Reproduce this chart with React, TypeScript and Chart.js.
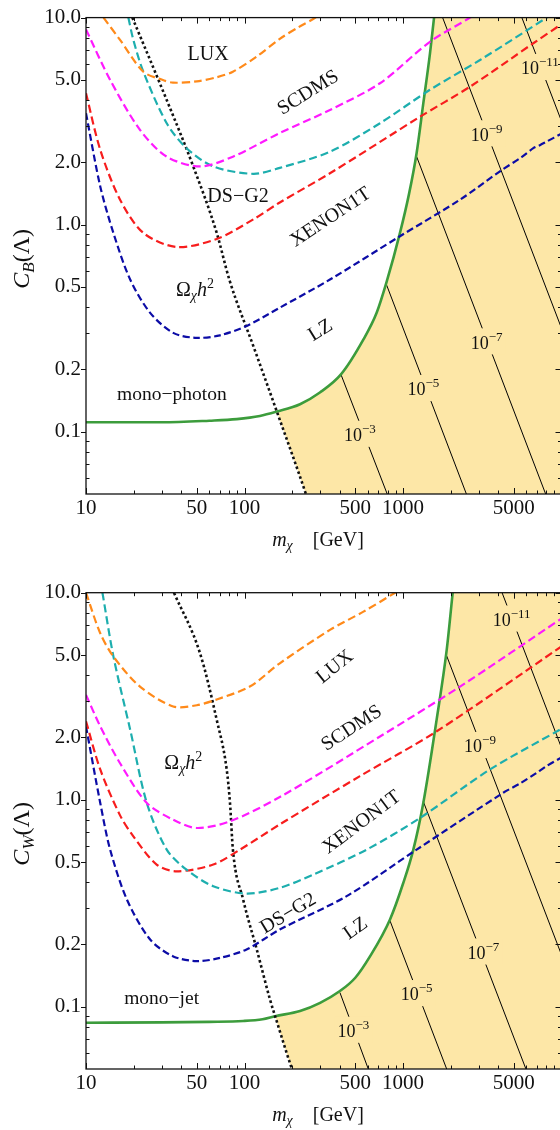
import React, { useEffect, useRef } from 'react';
import { Chart, registerables } from 'chart.js';

Chart.register(...registerables);

type P = [number, number];

// ---------- axes ----------
const X_MIN = 10;
const X_MAX = 10000;
const Y_MIN = 0.05;
const Y_MAX = 10;

const xLabelTicks = [10, 50, 100, 500, 1000, 5000];
const xMajorTicks = [10, 50, 100, 500, 1000, 5000, 10000];
const xMinorTicks = [20, 30, 40, 60, 70, 80, 90, 200, 300, 400, 600, 700, 800, 900, 2000, 3000, 4000, 6000, 7000, 8000, 9000];
const yLabelTicks = [0.1, 0.2, 0.5, 1, 2, 5, 10];
const yMinorTicks = [0.06, 0.07, 0.08, 0.09, 0.3, 0.4, 0.6, 0.7, 0.8, 0.9, 3, 4, 6, 7, 8, 9];

const contourExponents = ['−3', '−5', '−7', '−9', '−11'];

// ---------- upper panel: C_B ----------
const luxB: P[] = [[12.9, 10], [16.4, 7.8], [23, 5.48], [30, 5.02], [35.4, 4.85], [50, 4.92], [66.8, 5.15], [84.5, 5.48], [120, 6.5], [167, 7.9], [220, 9.0], [280, 10], [300, 10.6]];
const scdmsB: P[] = [[10, 8.77], [14.2, 5.0], [21.9, 2.87], [32.3, 2.13], [52.4, 1.91], [84.5, 2.13], [167, 2.77], [346, 3.58], [716, 4.82], [1479, 7.64], [2650, 10], [3000, 10.7]];
const dsg2B: P[] = [[18.5, 10], [19.9, 7.8], [23, 5.48], [32.3, 3.09], [43.1, 2.34], [63.5, 1.91], [113.7, 1.76], [167, 1.88], [346, 2.25], [716, 3.09], [1479, 4.48], [3062, 6.24], [8070, 10], [9000, 10.6]];
const xenonB: P[] = [[10, 4.31], [12.3, 2.3], [16.4, 1.32], [23, 0.912], [37.3, 0.78], [66.8, 0.853], [113.7, 1.06], [167, 1.28], [346, 1.77], [1280, 3.32], [2650, 4.64], [6640, 7.52], [10000, 9.3]];
const lzB: P[] = [[10, 3.45], [12.3, 1.53], [14.9, 0.91], [19, 0.543], [25.4, 0.375], [35.5, 0.3], [50, 0.284], [70, 0.292], [103, 0.324], [167, 0.397], [346, 0.543], [957, 0.879], [2290, 1.32], [4090, 1.81], [5600, 2.12], [6640, 2.34], [7300, 2.42], [8070, 2.52], [10000, 2.75]];
const relicB: P[] = [[19.6, 10], [32.3, 4.0], [47.5, 1.91], [66.8, 0.912], [80.2, 0.543], [115, 0.253], [160, 0.125], [244, 0.05], [265, 0.041]];
const monoB: P[] = [[10, 0.111], [30, 0.111], [60, 0.113], [89.4, 0.115], [125, 0.119], [160, 0.125], [224, 0.1357], [299, 0.1546], [406, 0.189], [563, 0.279], [682, 0.375], [789, 0.53], [957, 0.912], [1090, 1.4], [1219, 2.22], [1343, 3.85], [1480, 6.72], [1570, 10], [1650, 14]];
const crossB = 160;
const contourLinesB: P[][] = [
  [[406, 0.189], [795, 0.05]],
  [[789, 0.51], [2512, 0.05]],
  [[1219, 2.13], [7943, 0.05]],
  [[1778, 10], [10000, 0.316]],
  [[5623, 10], [10000, 3.16]],
];
const contourLabelPosB: P[] = [[535, 0.0962], [1343, 0.16], [3370, 0.269], [3370, 2.72], [7310, 5.69]];
const curveLabelsB = [
  { t: 'LUX', x: 58.9, y: 6.72, r: 0 },
  { t: 'SCDMS', x: 250, y: 4.39, r: -32 },
  { t: 'DS−G2', x: 91, y: 1.38, r: 0 },
  { t: 'XENON1T', x: 346, y: 1.097, r: -33.5 },
  { t: 'LZ', x: 299, y: 0.312, r: -32 },
];
const relicLabelB: P = [48.7, 0.486];
const monoLabelB = { t: 'mono−photon', x: 34.8, y: 0.152 };

// ---------- lower panel: C_W ----------
const luxW: P[] = [[10, 10], [12.3, 6.37], [14.9, 4.91], [21.9, 3.52], [35.5, 2.82], [50, 2.86], [66.8, 3.05], [108, 3.52], [167, 4.56], [346, 6.61], [563, 8.1], [891, 10], [1000, 10.6]];
const scdmsW: P[] = [[10, 3.21], [12.3, 2.26], [16.4, 1.5], [24.2, 0.964], [35.5, 0.8], [50, 0.73], [81, 0.786], [167, 1.03], [716, 2.02], [2290, 3.52], [10000, 7.5]];
const xenonW: P[] = [[10, 2.39], [12.3, 1.4], [16.4, 0.84], [19.9, 0.665], [27.9, 0.486], [37.3, 0.451], [63.5, 0.486], [93.8, 0.574], [167, 0.76], [535, 1.3], [1632, 2.14], [10000, 5.5]];
const dsg2W: P[] = [[12.7, 10], [14.9, 4.91], [19, 2.18], [24.2, 0.964], [32.3, 0.574], [43.1, 0.459], [63.5, 0.382], [103, 0.352], [167, 0.375], [272, 0.435], [590, 0.574], [1280, 0.816], [3540, 1.4], [10000, 2.2]];
const lzW: P[] = [[10, 2.26], [12.3, 0.964], [14.2, 0.574], [18.1, 0.33], [25.4, 0.211], [35.5, 0.175], [50, 0.166], [70, 0.172], [103, 0.189], [167, 0.236], [441, 0.342], [1219, 0.574], [4290, 1.08], [5500, 1.2], [6980, 1.35], [8000, 1.45], [10000, 1.6]];
const relicW: P[] = [[35.9, 10], [52.4, 5.1], [66.8, 2.43], [77.2, 1.4], [81, 0.964], [84.5, 0.574], [98, 0.33], [119.5, 0.189], [145, 0.108], [156, 0.09], [199, 0.05], [215, 0.042]];
const monoW: P[] = [[10, 0.0837], [30, 0.084], [60, 0.0845], [98, 0.0853], [130, 0.087], [156, 0.09], [224, 0.0953], [300, 0.1044], [400, 0.119], [500, 0.138], [619, 0.175], [828, 0.264], [1005, 0.397], [1162, 0.574], [1343, 0.964], [1632, 2.45], [1887, 5.29], [2059, 10], [2150, 13.5]];
const crossW = 156;
const contourLinesW: P[][] = [
  [[400, 0.117], [604, 0.05]],
  [[828, 0.26], [1886, 0.05]],
  [[1343, 0.98], [5964, 0.05]],
  [[1858, 5.1], [10000, 0.178]],
  [[4217, 10], [10000, 1.78]],
];
const contourLabelPosW: P[] = [[486, 0.0762], [1219, 0.1146], [3212, 0.182], [3062, 1.81], [4850, 7.39]];
const curveLabelsW = [
  { t: 'LUX', x: 367, y: 4.43, r: -39 },
  { t: 'SCDMS', x: 470, y: 2.24, r: -33 },
  { t: 'XENON1T', x: 543, y: 0.786, r: -37 },
  { t: 'DS−G2', x: 187, y: 0.285, r: -31 },
  { t: 'LZ', x: 498, y: 0.241, r: -35 },
];
const relicLabelW: P = [41.1, 1.51];
const monoLabelW = { t: 'mono−jet', x: 30, y: 0.111 };

// ---------- styles ----------
const FILL = '#fde7a7';
const ORANGE = '#ff8a1a';
const MAGENTA = '#ff1aff';
const CYAN = '#1daeae';
const RED = '#f71d1d';
const BLUE = '#0c0ca6';
const GREEN = '#3c9c3c';
const INK = '#111';
const SERIF = '"Liberation Serif", "Times New Roman", serif';

type Run = { t: string; s: number; i?: boolean; dy?: number };
const fontOf = (r: Run) => `${r.i ? 'italic ' : ''}${r.s}px ${SERIF}`;

function drawRuns(ctx: CanvasRenderingContext2D, runs: Run[], cx: number, cy: number, rot = 0, bg?: string) {
  ctx.save();
  ctx.translate(cx, cy);
  if (rot) ctx.rotate((rot * Math.PI) / 180);
  const ws = runs.map((r) => {
    ctx.font = fontOf(r);
    return ctx.measureText(r.t).width;
  });
  const total = ws.reduce((a, b) => a + b, 0);
  const s0 = runs[0].s;
  const base = s0 * 0.33;
  if (bg) {
    ctx.fillStyle = bg;
    ctx.fillRect(-total / 2 - 3, -s0 * 0.8, total + 6, s0 * 1.45);
  }
  ctx.fillStyle = INK;
  ctx.textAlign = 'left';
  ctx.textBaseline = 'alphabetic';
  let x = -total / 2;
  runs.forEach((r, k) => {
    ctx.font = fontOf(r);
    ctx.fillText(r.t, x, base + (r.dy || 0));
    x += ws[k];
  });
  ctx.restore();
}

const pts = (a: P[]) => a.map(([x, y]) => ({ x, y }));

function makeConfig(p: any, padTop: number, axisH: number) {
  const upper: P[] = [...p.mono.filter(([x]: P) => x >= p.cross), [X_MAX, p.mono[p.mono.length - 1][1]]];
  const lower: P[] = [...p.relic.filter(([x]: P) => x >= p.cross), [X_MAX, p.relic[p.relic.length - 1][1]]];
  const curveStyles = [
    { d: p.lux, c: ORANGE, dash: [8, 4], w: 2.2, smooth: true },
    { d: p.scdms, c: MAGENTA, dash: [8, 4], w: 2.2, smooth: true },
    { d: p.dsg2, c: CYAN, dash: [8, 4], w: 2.2, smooth: true },
    { d: p.xenon, c: RED, dash: [8, 4], w: 2.2, smooth: true },
    { d: p.lz, c: BLUE, dash: [7, 3.5], w: 2.2, smooth: true },
    { d: p.relic, c: INK, dash: [2.6, 2.6], w: 2.6, smooth: false },
    { d: p.mono, c: GREEN, dash: [], w: 2.6, smooth: false },
  ];
  const datasets: any[] = [
    {
      data: pts(upper), borderWidth: 0, borderColor: 'rgba(0,0,0,0)', backgroundColor: FILL,
      fill: 1, order: 20, pointRadius: 0, cubicInterpolationMode: 'monotone',
    },
    {
      data: pts(lower), borderWidth: 0, borderColor: 'rgba(0,0,0,0)', backgroundColor: 'rgba(0,0,0,0)',
      fill: false, order: 19, pointRadius: 0, cubicInterpolationMode: 'monotone',
    },
  ];
  const contourStart = datasets.length;
  p.contours.forEach((seg: P[]) => {
    datasets.push({ data: pts(seg), borderColor: '#000', borderWidth: 1, tension: 0, pointRadius: 0, fill: false, order: 10 });
  });
  curveStyles.forEach((cs) => {
    datasets.push({
      data: pts(cs.d), borderColor: cs.c, borderWidth: cs.w, borderDash: cs.dash, pointRadius: 0,
      fill: false, order: 0, borderCapStyle: 'butt',
      ...(cs.smooth ? { tension: 0.3 } : { cubicInterpolationMode: 'monotone' }),
    });
  });

  const annot = {
    id: 'annot',
    afterDatasetDraw(chart: any, args: any) {
      if (args.index !== contourStart) return;
      const ctx = chart.ctx;
      const xs = chart.scales.x;
      const ys = chart.scales.y;
      p.contourLabels.forEach(([x, y]: P, k: number) => {
        drawRuns(ctx, [{ t: '10', s: 18 }, { t: contourExponents[k], s: 13, dy: -8 }],
          xs.getPixelForValue(x), ys.getPixelForValue(y), 0, FILL);
      });
    },
    afterDatasetsDraw(chart: any) {
      const ctx = chart.ctx;
      const xs = chart.scales.x;
      const ys = chart.scales.y;
      p.labels.forEach((l: any) => {
        drawRuns(ctx, [{ t: l.t, s: 20 }], xs.getPixelForValue(l.x), ys.getPixelForValue(l.y), l.r);
      });
      drawRuns(ctx, [{ t: p.monoLabel.t, s: 19.5 }], xs.getPixelForValue(p.monoLabel.x), ys.getPixelForValue(p.monoLabel.y));
      drawRuns(ctx, [
        { t: 'Ω', s: 20 }, { t: 'χ', s: 14, i: true, dy: 4 }, { t: 'h', s: 20, i: true }, { t: '2', s: 14, dy: -8 },
      ], xs.getPixelForValue(p.relicLabel[0]), ys.getPixelForValue(p.relicLabel[1]));
    },
    afterDraw(chart: any) {
      const ctx = chart.ctx;
      const a = chart.chartArea;
      const xs = chart.scales.x;
      const ys = chart.scales.y;
      ctx.save();
      ctx.strokeStyle = INK;
      ctx.lineWidth = 1;
      ctx.beginPath();
      xMajorTicks.forEach((v) => {
        const px = Math.round(xs.getPixelForValue(v)) + 0.5;
        ctx.moveTo(px, a.bottom); ctx.lineTo(px, a.bottom - 6);
        ctx.moveTo(px, a.top); ctx.lineTo(px, a.top + 6);
      });
      xMinorTicks.forEach((v) => {
        const px = Math.round(xs.getPixelForValue(v)) + 0.5;
        ctx.moveTo(px, a.bottom); ctx.lineTo(px, a.bottom - 3.5);
        ctx.moveTo(px, a.top); ctx.lineTo(px, a.top + 3.5);
      });
      yLabelTicks.forEach((v) => {
        const py = Math.round(ys.getPixelForValue(v)) + 0.5;
        ctx.moveTo(a.left - 5, py); ctx.lineTo(a.left, py);
        ctx.moveTo(a.right, py); ctx.lineTo(a.right - 6, py);
      });
      yMinorTicks.forEach((v) => {
        const py = Math.round(ys.getPixelForValue(v)) + 0.5;
        ctx.moveTo(a.left, py); ctx.lineTo(a.left + 3.5, py);
        ctx.moveTo(a.right, py); ctx.lineTo(a.right - 3.5, py);
      });
      ctx.stroke();
      ctx.lineWidth = 1.3;
      ctx.strokeRect(a.left, a.top, a.right - a.left, a.bottom - a.top);
      ctx.restore();
      // axis titles
      drawRuns(ctx, [{ t: 'm', s: 20, i: true }, { t: 'χ', s: 14, i: true, dy: 4 }, { t: '    [GeV]', s: 20 }],
        318, a.bottom + 45.5);
      drawRuns(ctx, [{ t: 'C', s: 24, i: true }, { t: p.sub, s: 17, i: true, dy: 5 }, { t: '(Λ)', s: 24 }],
        21, (a.top + a.bottom) / 2 + 3, -90);
    },
  };

  return {
    type: 'line',
    data: { datasets },
    plugins: [annot],
    options: {
      animation: false,
      responsive: false,
      devicePixelRatio: 1,
      layout: { padding: { left: 0, right: 38.5, top: padTop, bottom: 0 } },
      plugins: { legend: { display: false }, tooltip: { enabled: false }, title: { display: false } },
      elements: { point: { radius: 0 } },
      scales: {
        x: {
          type: 'logarithmic', min: X_MIN, max: X_MAX, position: 'bottom',
          grid: { display: false, drawTicks: false }, border: { display: false },
          afterBuildTicks: (s: any) => { s.ticks = xLabelTicks.map((v) => ({ value: v })); },
          afterFit: (s: any) => { s.height = axisH; },
          ticks: {
            autoSkip: false, maxRotation: 0, minRotation: 0, padding: 2, color: INK,
            font: { family: SERIF, size: 21 }, callback: (v: any) => String(v),
          },
        },
        y: {
          type: 'logarithmic', min: Y_MIN, max: Y_MAX, position: 'left',
          grid: { display: false, drawTicks: false }, border: { display: false },
          afterBuildTicks: (s: any) => { s.ticks = yLabelTicks.map((v) => ({ value: v })); },
          afterFit: (s: any) => { s.width = 86; },
          ticks: {
            autoSkip: false, padding: 5, color: INK,
            font: { family: SERIF, size: 21 }, callback: (v: any) => Number(v).toFixed(1),
          },
        },
      },
    },
  };
}

const panelB = {
  sub: 'B', lux: luxB, scdms: scdmsB, dsg2: dsg2B, xenon: xenonB, lz: lzB, relic: relicB, mono: monoB,
  cross: crossB, contours: contourLinesB, contourLabels: contourLabelPosB, labels: curveLabelsB,
  relicLabel: relicLabelB, monoLabel: monoLabelB,
};
const panelW = {
  sub: 'W', lux: luxW, scdms: scdmsW, dsg2: dsg2W, xenon: xenonW, lz: lzW, relic: relicW, mono: monoW,
  cross: crossW, contours: contourLinesW, contourLabels: contourLabelPosW, labels: curveLabelsW,
  relicLabel: relicLabelW, monoLabel: monoLabelW,
};

function Panel({ p, padTop, axisH }: { p: any; padTop: number; axisH: number }) {
  const ref = useRef<HTMLCanvasElement>(null);
  useEffect(() => {
    const chart = new Chart(ref.current as HTMLCanvasElement, makeConfig(p, padTop, axisH) as any);
    return () => chart.destroy();
  }, []);
  return <canvas ref={ref} width={600} height={565} style={{ display: 'block', width: 600, height: 565 }} />;
}

export default function App() {
  return (
    <div style={{ position: 'absolute', left: 0, top: 0, width: 560, height: 1130, overflow: 'hidden', background: '#fff' }}>
      <Panel p={panelB} padTop={17.5} axisH={71} />
      <Panel p={panelW} padTop={27.7} axisH={61} />
    </div>
  );
}
